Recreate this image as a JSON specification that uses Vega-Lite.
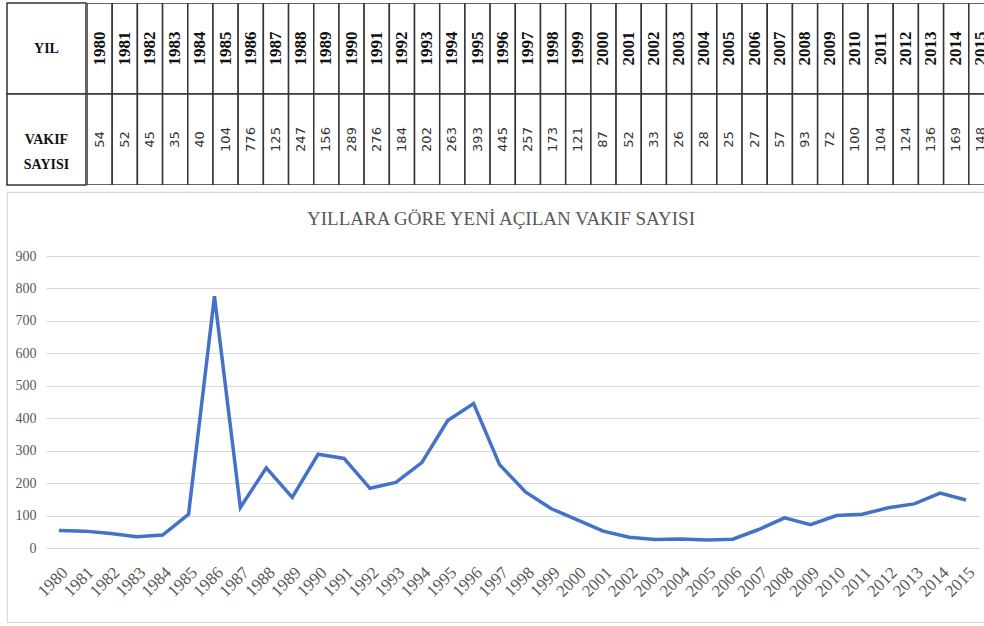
{
  "$schema": "https://vega.github.io/schema/vega-lite/v6.json",
  "padding": {"left": 6, "top": 2, "right": 0, "bottom": 0},
  "background": "white",
  "datasets": {
    "table": [
      {"year": "1980", "value": 54}, {"year": "1981", "value": 52}, {"year": "1982", "value": 45},
      {"year": "1983", "value": 35}, {"year": "1984", "value": 40}, {"year": "1985", "value": 104},
      {"year": "1986", "value": 776}, {"year": "1987", "value": 125}, {"year": "1988", "value": 247},
      {"year": "1989", "value": 156}, {"year": "1990", "value": 289}, {"year": "1991", "value": 276},
      {"year": "1992", "value": 184}, {"year": "1993", "value": 202}, {"year": "1994", "value": 263},
      {"year": "1995", "value": 393}, {"year": "1996", "value": 445}, {"year": "1997", "value": 257},
      {"year": "1998", "value": 173}, {"year": "1999", "value": 121}, {"year": "2000", "value": 87},
      {"year": "2001", "value": 52}, {"year": "2002", "value": 33}, {"year": "2003", "value": 26},
      {"year": "2004", "value": 28}, {"year": "2005", "value": 25}, {"year": "2006", "value": 27},
      {"year": "2007", "value": 57}, {"year": "2008", "value": 93}, {"year": "2009", "value": 72},
      {"year": "2010", "value": 100}, {"year": "2011", "value": 104}, {"year": "2012", "value": 124},
      {"year": "2013", "value": 136}, {"year": "2014", "value": 169}, {"year": "2015", "value": 148}
    ],
    "header": [
      {"row": "r1", "label": ["YIL"]},
      {"row": "r2", "label": ["VAKIF", "SAYISI"]}
    ]
  },
  "config": {"view": {"stroke": null}},
  "columns": 1,
  "align": "none",
  "spacing": 5,
  "concat": [
    {
      "hconcat": [
        {
          "width": 79,
          "height": 182,
          "data": {"name": "header"},
          "encoding": {
            "y": {"field": "row", "type": "nominal", "scale": {"domain": ["r1", "r2"], "paddingInner": 0, "paddingOuter": 0}, "axis": null}
          },
          "layer": [
            {"mark": {"type": "rect", "fill": "white", "stroke": "#333333", "strokeWidth": 1.5}},
            {"mark": {"type": "text", "font": "Liberation Serif", "fontWeight": "bold", "fontSize": 14, "color": "#111111", "lineHeight": 25},
             "encoding": {"text": {"field": "label"}}}
          ]
        },
        {
          "width": 899,
          "height": 182,
          "data": {"name": "table"},
          "encoding": {
            "x": {"field": "year", "type": "ordinal", "scale": {"range": [0, 907], "paddingInner": 0, "paddingOuter": 0}, "axis": null}
          },
          "layer": [
            {"mark": {"type": "rect", "fill": "white", "stroke": "#333333", "strokeWidth": 1.5, "clip": true},
             "encoding": {"y": {"datum": "r1", "type": "nominal", "scale": {"domain": ["r1", "r2"], "paddingInner": 0, "paddingOuter": 0}, "axis": null}}},
            {"mark": {"type": "rect", "fill": "white", "stroke": "#333333", "strokeWidth": 1.5, "clip": true},
             "encoding": {"y": {"datum": "r2", "type": "nominal"}}},
            {"mark": {"type": "text", "angle": 270, "font": "Liberation Serif", "fontWeight": "bold", "fontSize": 17, "color": "#111111", "clip": true},
             "encoding": {"y": {"datum": "r1", "type": "nominal"}, "text": {"field": "year"}}},
            {"mark": {"type": "text", "angle": 270, "font": "DejaVu Sans", "fontSize": 13, "color": "#333333", "clip": true},
             "encoding": {"y": {"datum": "r2", "type": "nominal"}, "text": {"field": "value"}}}
          ]
        }
      ],
      "spacing": 0
    },
    {
      "width": 978,
      "height": 430,
      "view": {"stroke": "#d9d9d9", "strokeWidth": 1.2, "fill": "white"},
      "data": {"name": "table"},
      "title": {"text": "YILLARA GÖRE YENİ AÇILAN VAKIF SAYISI", "font": "Liberation Serif", "fontSize": 19, "fontWeight": "normal", "color": "#595959", "offset": -52, "baseline": "alphabetic", "dx": 5},
      "mark": {"type": "line", "color": "#4472C4", "strokeWidth": 3.5},
      "encoding": {
        "x": {"field": "year", "type": "ordinal", "scale": {"type": "point", "range": [39, 972], "padding": 0.5},
              "axis": {"title": null, "offset": -74, "labelAngle": -45, "labelFont": "Liberation Serif", "labelFontSize": 17, "labelColor": "#595959", "domain": false, "ticks": false, "labelPadding": 16}},
        "y": {"field": "value", "type": "quantitative", "scale": {"domain": [0, 900], "range": [356, 64]},
              "axis": {"title": null, "offset": -39, "values": [0, 100, 200, 300, 400, 500, 600, 700, 800, 900], "domain": false, "ticks": false, "gridColor": "#d9d9d9", "gridWidth": 1.2, "labelFont": "Liberation Serif", "labelFontSize": 14, "labelColor": "#595959", "labelPadding": 10}}
      }
    }
  ]
}
